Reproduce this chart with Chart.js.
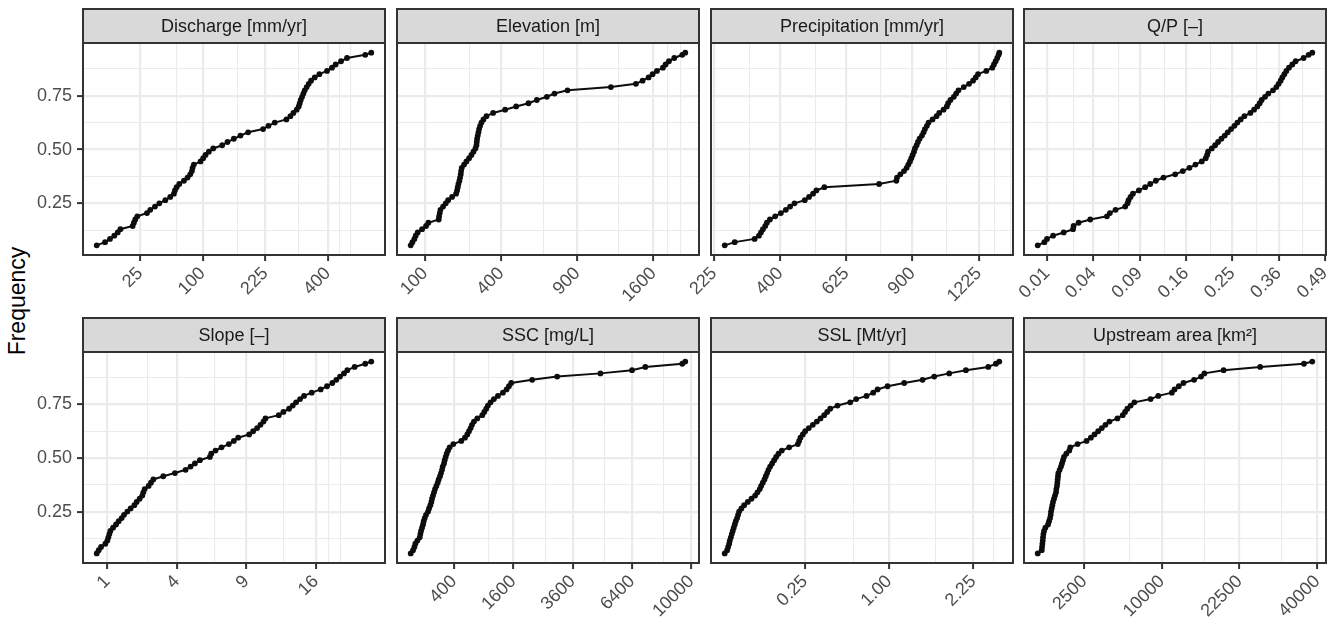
<!DOCTYPE html>
<html>
<head>
<meta charset="utf-8">
<script src="https://cdn.jsdelivr.net/npm/chart.js@4.4.1/dist/chart.umd.min.js"></script>
<style>
  body { margin: 0; background: #fff; }
  #wrap { position: relative; width: 1343px; height: 618px; overflow: hidden; font-family: "Liberation Sans", Arial, sans-serif; }
  #wrap canvas { position: absolute; }
  #ytitle { position: absolute; left: 17px; top: 301px; transform: translate(-50%, -50%) rotate(-90deg); font-size: 23px; color: #000; white-space: nowrap; }
</style>
</head>
<body>
<div id="wrap"><div id="ytitle">Frequency</div></div>
<script>
// cumulative frequency levels shared by every variable
const freq = [0.055, 0.07, 0.085, 0.1, 0.115, 0.13, 0.145, 0.16, 0.175, 0.19, 0.205, 0.22, 0.235, 0.25, 0.265, 0.28, 0.295, 0.31, 0.325, 0.34, 0.355, 0.37, 0.385, 0.4, 0.415, 0.43, 0.445, 0.46, 0.475, 0.49, 0.505, 0.52, 0.535, 0.55, 0.565, 0.58, 0.595, 0.61, 0.625, 0.64, 0.655, 0.67, 0.685, 0.7, 0.715, 0.73, 0.745, 0.76, 0.775, 0.79, 0.805, 0.82, 0.835, 0.85, 0.865, 0.88, 0.895, 0.91, 0.925, 0.94, 0.95];
const freqTicks = ['0.25', '0.50', '0.75'];

const discharge = [2.4, 4.9, 6.8, 8.7, 10.4, 11.8, 19.5, 20.4, 21.4, 22.9, 30.9, 33.9, 38.4, 42.8, 49.3, 55, 59.4, 60.7, 62.8, 66.2, 72.4, 77.4, 81.2, 83.6, 84.6, 86.5, 96.7, 100.9, 104.7, 110.2, 117.6, 133.6, 143.6, 156, 169.5, 185.8, 219.8, 232.6, 248.3, 278.4, 289.2, 297.4, 306.6, 312.2, 315, 317.9, 321.7, 325.5, 329.3, 335.1, 341, 347.9, 358.9, 373.1, 397.1, 413.1, 425.1, 442.8, 463.2, 528.1, 550.3];
const elevation = [65.9, 69.5, 73.9, 77, 81.6, 92.3, 102.6, 108.9, 139.1, 140.2, 142.3, 144.4, 152.9, 161.7, 169.6, 183.5, 198.1, 201.8, 204.3, 206.8, 210.6, 213.1, 215.7, 217, 219.6, 228.8, 238.1, 249.1, 258.8, 267.4, 276, 280.4, 281.9, 283.4, 286.3, 289.3, 292.3, 296.8, 302.9, 312.1, 326.2, 358.6, 420.8, 482.2, 556, 608.8, 675.4, 728.7, 823.9, 1183.2, 1420, 1486.8, 1548.2, 1589.8, 1635.6, 1700, 1729, 1765.6, 1825, 1915.9, 1950.5];
const precipitation = [249.7, 274.1, 326.2, 338.1, 343.7, 349.3, 355.9, 360.6, 369.3, 384.8, 401.8, 417, 430.4, 444.1, 477.5, 491.8, 505.3, 516.6, 544.3, 754.7, 828.1, 831, 845.5, 861.7, 873.5, 880.9, 888.4, 894.4, 900.4, 906.4, 910.9, 918.5, 924.6, 932.3, 943, 950.7, 957, 966.3, 974.1, 993, 1012.1, 1024.9, 1045.9, 1062.2, 1068.7, 1080.2, 1096.8, 1108.5, 1120.2, 1147.2, 1174.6, 1195.3, 1209.2, 1221.5, 1265.7, 1298.1, 1307.1, 1316.2, 1325.3, 1332.7, 1336.3];
const runoffRatio = [0.0064, 0.0089, 0.0100, 0.0128, 0.0185, 0.0244, 0.0248, 0.0283, 0.0374, 0.0526, 0.0556, 0.0615, 0.0723, 0.0750, 0.0762, 0.0786, 0.0815, 0.0890, 0.0973, 0.1042, 0.1122, 0.1236, 0.1419, 0.1546, 0.1661, 0.1768, 0.1885, 0.1960, 0.1986, 0.2005, 0.2077, 0.2143, 0.2203, 0.2271, 0.2340, 0.2403, 0.2474, 0.2546, 0.2611, 0.2685, 0.2768, 0.2906, 0.2992, 0.3071, 0.3127, 0.3175, 0.3257, 0.3339, 0.3456, 0.3541, 0.3601, 0.3653, 0.3697, 0.3750, 0.3803, 0.3874, 0.3964, 0.4055, 0.4277, 0.4419, 0.4525];
const slope = [0.717, 0.766, 0.826, 0.943, 1.0, 1.029, 1.058, 1.088, 1.17, 1.265, 1.352, 1.454, 1.537, 1.658, 1.783, 1.927, 2.021, 2.146, 2.259, 2.303, 2.361, 2.541, 2.649, 2.76, 3.258, 3.891, 4.52, 4.831, 5.108, 5.439, 6.13, 6.225, 6.54, 6.988, 7.556, 7.957, 8.312, 9.249, 9.602, 9.962, 10.266, 10.544, 10.732, 12.025, 12.494, 13.077, 13.461, 13.815, 14.245, 14.683, 15.539, 16.576, 17.326, 17.97, 18.461, 18.916, 19.42, 19.844, 20.795, 22.217, 23.037];
const ssc = [29.3, 38.4, 44.2, 48.8, 58.6, 71.3, 75.1, 79.1, 85.2, 91.5, 95.8, 102.5, 111.8, 126.5, 134.2, 144.8, 153, 158.6, 167.2, 176, 185.1, 197.5, 210.3, 220.2, 233.7, 244.1, 254.8, 262, 276.7, 284.2, 295.7, 307.4, 323.3, 343.8, 391.1, 504.8, 561.8, 599.7, 627.5, 655.9, 679.1, 714.6, 775.8, 872.4, 912.6, 953.8, 988.8, 1046, 1119.8, 1211.8, 1331.8, 1423.4, 1483.3, 1544.4, 2149.9, 3001.2, 4812.1, 6404.5, 7143, 9403.4, 9600.1];
const ssl = [0.0006, 0.0015, 0.0020, 0.0026, 0.0030, 0.0037, 0.0044, 0.0052, 0.0061, 0.0071, 0.0081, 0.0096, 0.0108, 0.0121, 0.0153, 0.0195, 0.0260, 0.0336, 0.0420, 0.0479, 0.0541, 0.0579, 0.0628, 0.0678, 0.0720, 0.0763, 0.0808, 0.0865, 0.0936, 0.1010, 0.1087, 0.1180, 0.1320, 0.1656, 0.2102, 0.2175, 0.2249, 0.2383, 0.2520, 0.2743, 0.2998, 0.3264, 0.3517, 0.3781, 0.4003, 0.4232, 0.4817, 0.5919, 0.6480, 0.7505, 0.8207, 0.8680, 0.9823, 1.1883, 1.4377, 1.6085, 1.8425, 2.1210, 2.5252, 2.6722, 2.7373];
const upstreamArea = [403, 513, 523, 533, 543, 552, 563, 583, 625, 713, 748, 784, 808, 820, 845, 870, 895, 934, 973, 1014, 1027, 1055, 1069, 1083, 1097, 1111, 1169, 1228, 1273, 1320, 1367, 1479, 1631, 1683, 2091, 2652, 2946, 3206, 3478, 3761, 4055, 4388, 5093, 5593, 5819, 6049, 6386, 6768, 8600, 9536, 11323, 11690, 12298, 12971, 14575, 15679, 16218, 19528, 26650, 36654, 38728];

const dischargeTicks = ['25', '100', '225', '400'];
const elevationTicks = ['100', '400', '900', '1600'];
const precipitationTicks = ['225', '400', '625', '900', '1225'];
const runoffRatioTicks = ['0.01', '0.04', '0.09', '0.16', '0.25', '0.36', '0.49'];
const slopeTicks = ['1', '4', '9', '16'];
const sscTicks = ['400', '1600', '3600', '6400', '10000'];
const sslTicks = ['0.25', '1.00', '2.25'];
const upstreamAreaTicks = ['2500', '10000', '22500', '40000'];

const panelTitles = ['Discharge [mm/yr]', 'Elevation [m]', 'Precipitation [mm/yr]', 'Q/P [\u2013]',
                     'Slope [\u2013]', 'SSC [mg/L]', 'SSL [Mt/yr]', 'Upstream area [km\u00b2]'];

const panels = [
  { title: panelTitles[0], values: discharge, ticks: dischargeTicks },
  { title: panelTitles[1], values: elevation, ticks: elevationTicks },
  { title: panelTitles[2], values: precipitation, ticks: precipitationTicks },
  { title: panelTitles[3], values: runoffRatio, ticks: runoffRatioTicks },
  { title: panelTitles[4], values: slope, ticks: slopeTicks },
  { title: panelTitles[5], values: ssc, ticks: sscTicks },
  { title: panelTitles[6], values: ssl, ticks: sslTicks },
  { title: panelTitles[7], values: upstreamArea, ticks: upstreamAreaTicks }
];

// layout of the facet grid
const colLeft = [83, 397, 711, 1024];
const stripTop = [9, 318];
const plotH = [212, 211];
const PANEL_W = 302, STRIP_H = 34, AXIS_W = 80, RIGHT_PAD = 30, BOTTOM_H = 62, TOP_GAP = 4;

const FONT = '"Liberation Sans", Arial, sans-serif';
Chart.defaults.font.family = FONT;

// midpoints between breaks, extended one step past the data like ggplot does
function minorBreaks(b, lo, hi) {
  const bd = b[1] - b[0];
  const ext = b.slice();
  if (lo < ext[0]) ext.unshift(ext[0] - bd);
  if (hi > ext[ext.length - 1]) ext.push(ext[ext.length - 1] + bd);
  const out = [];
  for (let i = 0; i < ext.length - 1; i++) out.push(ext[i], (ext[i] + ext[i + 1]) / 2);
  out.push(ext[ext.length - 1]);
  return out.filter(v => !b.includes(v));
}

function expand(lo, hi) {
  const pad = (hi - lo) * 0.05;
  return [lo - pad, hi + pad];
}

const identity = v => v;

function buildTicks(labels, values, tf, range) {
  const b = labels.map(Number);
  const lo = Math.min(...values), hi = Math.max(...values);
  const ticks = labels.map((t, i) => ({ value: tf(b[i]), major: true, text: t }));
  minorBreaks(b, lo, hi).forEach(v => {
    if (v >= 0 || tf === identity) ticks.push({ value: tf(v), major: false, text: '' });
  });
  return ticks
    .filter(t => isFinite(t.value) && t.value >= range[0] && t.value <= range[1])
    .sort((a, c) => a.value - c.value);
}

const yRange = expand(Math.min(...freq), Math.max(...freq));
const yTicks = buildTicks(freqTicks, freq, identity, yRange);

// grey strip with the facet label, plus the dark panel border
const panelFrame = {
  id: 'panelFrame',
  afterDraw(chart, args, opts) {
    const { ctx, chartArea: a } = chart;
    const w = a.right - a.left;
    ctx.save();
    ctx.fillStyle = '#D9D9D9';
    ctx.fillRect(a.left, a.top - STRIP_H, w, STRIP_H);
    ctx.strokeStyle = '#333333';
    ctx.lineWidth = 2;
    ctx.strokeRect(a.left, a.top - STRIP_H, w, STRIP_H);
    ctx.strokeRect(a.left, a.top, w, a.bottom - a.top);
    ctx.fillStyle = '#1A1A1A';
    ctx.font = '18px ' + FONT;
    ctx.textAlign = 'center';
    ctx.textBaseline = 'middle';
    ctx.fillText(opts.title, a.left + w / 2, a.top - STRIP_H / 2 + 1);
    ctx.restore();
  }
};

const wrap = document.getElementById('wrap');

panels.forEach((p, k) => {
  const r = Math.floor(k / 4), c = k % 4;
  const w = AXIS_W + PANEL_W + RIGHT_PAD;
  const h = TOP_GAP + STRIP_H + plotH[r] + BOTTOM_H;
  const cv = document.createElement('canvas');
  cv.width = w; cv.height = h;
  cv.style.width = w + 'px'; cv.style.height = h + 'px';
  cv.style.left = (colLeft[c] - AXIS_W) + 'px';
  cv.style.top = (stripTop[r] - TOP_GAP) + 'px';
  wrap.appendChild(cv);

  // x runs on a square-root scale
  const sq = p.values.map(Math.sqrt);
  const xRange = expand(Math.min(...sq), Math.max(...sq));
  const xTicks = buildTicks(p.ticks, p.values, Math.sqrt, xRange);
  const showY = c === 0;

  const gridWidth = ctx => (ctx.tick && ctx.tick.major ? 2.2 : 1.1);
  const tickCol = ctx => (ctx.tick && ctx.tick.major ? '#333333' : 'rgba(0,0,0,0)');

  new Chart(cv, {
    type: 'scatter',
    data: {
      datasets: [{
        data: sq.map((x, i) => ({ x: x, y: freq[i] })),
        showLine: true,
        borderColor: '#0d0d0d',
        borderWidth: 2,
        pointRadius: 2.9,
        pointBackgroundColor: '#0d0d0d',
        pointBorderWidth: 0,
        tension: 0
      }]
    },
    options: {
      responsive: false,
      devicePixelRatio: 1,
      animation: false,
      events: [],
      layout: { padding: { top: TOP_GAP + STRIP_H, right: RIGHT_PAD, left: 0, bottom: 0 } },
      plugins: { legend: { display: false }, tooltip: { enabled: false }, panelFrame: { title: p.title } },
      scales: {
        x: {
          type: 'linear',
          min: xRange[0], max: xRange[1],
          afterBuildTicks: s => { s.ticks = xTicks.map(t => Object.assign({}, t)); },
          afterFit: s => { s.height = BOTTOM_H; },
          border: { display: false },
          grid: { color: '#EBEBEB', lineWidth: gridWidth, tickLength: 6, tickColor: tickCol, tickWidth: 2 },
          ticks: {
            autoSkip: false, minRotation: 45, maxRotation: 45, padding: 2,
            color: '#4D4D4D', font: { size: 18 },
            callback: (v, i, ts) => ts[i].text
          }
        },
        y: {
          type: 'linear',
          min: yRange[0], max: yRange[1],
          afterBuildTicks: s => { s.ticks = yTicks.map(t => Object.assign({}, t)); },
          afterFit: s => { s.width = AXIS_W; },
          border: { display: false },
          grid: { color: '#EBEBEB', lineWidth: gridWidth, tickLength: 6, drawTicks: showY, tickColor: tickCol, tickWidth: 2 },
          ticks: {
            display: showY, autoSkip: false, padding: 5,
            color: '#4D4D4D', font: { size: 18 },
            callback: (v, i, ts) => ts[i].text
          }
        }
      }
    },
    plugins: [panelFrame]
  });
});
</script>
</body>
</html>
